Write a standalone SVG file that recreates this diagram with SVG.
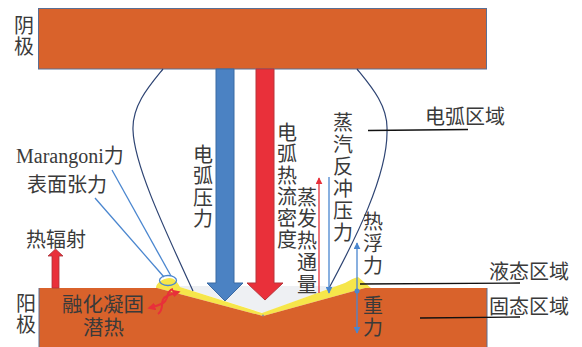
<svg xmlns="http://www.w3.org/2000/svg" width="582" height="347" viewBox="0 0 582 347">
  <style>
    .cjk { font-family: "Noto Sans CJK SC", "Noto Sans", sans-serif; font-size: 20px; fill: #3a3a3a; }
    .tight { font-family: "Liberation Sans", "Noto Sans CJK SC", sans-serif; font-size: 20.5px; fill: #3a3a3a; }
    .col { font-family: "Noto Sans CJK SC", "Noto Sans", sans-serif; font-size: 20px; fill: #3a3a3a; writing-mode: vertical-rl; letter-spacing: 1.5px; }
    .ser { font-family: "Liberation Serif", "Noto Sans CJK SC", serif; font-size: 20px; fill: #3a3a3a; }
    .arc { fill: none; stroke: #2e4473; stroke-width: 1.2; }
    .lead { fill: none; stroke: #111; stroke-width: 1.3; }
    .blue { fill: none; stroke: #4a86cf; stroke-width: 1.3; }
    .red { fill: none; stroke: #e8303a; stroke-width: 1.3; }
    .squig { fill: none; stroke: #e8303a; stroke-width: 2; }
  </style>
  <defs>
    <marker id="hb" viewBox="0 0 10 10" refX="9" refY="5" markerWidth="7" markerHeight="7" markerUnits="userSpaceOnUse" orient="auto-start-reverse">
      <path d="M0,0 L10,5 L0,10 Z" fill="#4a86cf"/>
    </marker>
    <marker id="hr" viewBox="0 0 10 10" refX="9" refY="5" markerWidth="7" markerHeight="7" markerUnits="userSpaceOnUse" orient="auto-start-reverse">
      <path d="M0,0 L10,5 L0,10 Z" fill="#e8303a"/>
    </marker>
    <marker id="hs" viewBox="0 0 10 10" refX="8" refY="5" markerWidth="8" markerHeight="8" markerUnits="userSpaceOnUse" orient="auto">
      <path d="M0,0 L10,5 L0,10 Z" fill="#e8303a"/>
    </marker>
  </defs>

  <rect width="582" height="347" fill="#ffffff"/>

  <!-- cathode block -->
  <g id="cathode">
    <rect x="38.5" y="8.5" width="448" height="60.5" fill="#d9622b" stroke="#5b6f93" stroke-width="1"/>
    <text class="col" x="24" y="15">阴极</text>
  </g>

  <!-- anode with weld pool -->
  <g id="anode">
    <!-- crater surface -->
    <path d="M176,286 L350,286 L345,283 L263,313 L180,287 Z" fill="#eef0f3"/>
    <!-- liquid layer -->
    <path d="M156,288 C156,283 162,279 169,278 C175,278 178,283 180,287 L262,313 L345,283 C350,280 354,278 358,277 C362,280 366,284 371,288 L365,288 L263,316 L157,288 Z" fill="#f6e64a"/>
    <!-- solid body -->
    <path d="M39,288 L157,288 L263,316 L365,288 L487,288 L487,347 L39,347 Z" fill="#d9622b"/>
    <circle cx="263" cy="315.5" r="1" fill="#8a8f99"/>
    <line x1="39" y1="288" x2="39" y2="347" stroke="#5b6f93" stroke-width="1"/>
    <line x1="487" y1="288" x2="487" y2="347" stroke="#5b6f93" stroke-width="1"/>
    <text class="col" x="26" y="293">阳极</text>
  </g>

  <!-- arc column outline -->
  <g id="arc-region">
    <path class="arc" d="M163,69 C150,85 132,105 133,130 C134,165 165,230 193,291"/>
    <path class="arc" d="M357,69 C370,85 388,105 387,130 C388,175 355,240 328,290"/>
  </g>

  <g id="connectors">
    <!-- arc pressure -->
    <path d="M216,69 L234,69 L234,283 L243,283 L225,301 L207,283 L216,283 Z" fill="#4b82c3" stroke="#3a6aa3" stroke-width="1"/>
    <!-- arc heat flux -->
    <path d="M256,69 L274,69 L274,283 L283,283 L265,300 L247,283 L256,283 Z" fill="#e9303a" stroke="#b8343a" stroke-width="1"/>
    <!-- thermal radiation -->
    <path d="M52,288 L52,256 L48,256 L55.5,249 L63,256 L59,256 L59,288 Z" fill="#e9303a" stroke="#a8343a" stroke-width="0.8"/>
    <!-- evaporation heat flux -->
    <line class="red" x1="319" y1="293" x2="319" y2="178" marker-end="url(#hr)"/>
    <!-- vapour recoil pressure -->
    <line class="blue" x1="329" y1="177" x2="329" y2="293" marker-end="url(#hb)"/>
    <!-- buoyancy / gravity -->
    <line class="blue" x1="357" y1="243" x2="357" y2="333" marker-start="url(#hb)" marker-end="url(#hb)"/>
    <circle cx="357" cy="291" r="2.5" fill="#4a86cf"/>
    <!-- surface forces -->
    <line class="blue" x1="112" y1="170" x2="171" y2="276"/>
    <line class="blue" x1="95" y1="198" x2="164" y2="277"/>
    <ellipse cx="168" cy="280.5" rx="8.5" ry="5" fill="none" stroke="#4a86cf" stroke-width="1.3"/>
    <!-- latent heat -->
    <path class="squig" d="M158,314 C166,308 158,300 167,296 C171,294 175,293 179,292" marker-end="url(#hs)"/>
    <path class="squig" d="M173,289 C164,292 171,300 161,304 C157,306 153,307 149,308" marker-end="url(#hs)"/>
    <!-- region leaders -->
    <line class="lead" x1="368" y1="130.5" x2="468" y2="129.5"/>
    <line class="lead" x1="360" y1="284" x2="520" y2="283"/>
    <line class="lead" x1="420" y1="318" x2="520" y2="317"/>
  </g>

  <g id="labels">
    <text class="cjk" x="425" y="124">电弧区域</text>
    <text class="cjk" x="489" y="279">液态区域</text>
    <text class="cjk" x="489" y="314">固态区域</text>
    <text class="cjk" x="26" y="247">热辐射</text>
    <text class="ser" x="16" y="163">Marangoni力</text>
    <text class="cjk" x="27" y="192">表面张力</text>
    <text class="tight" x="62" y="312">融化凝固</text>
    <text class="tight" x="83" y="335">潜热</text>

    <text class="col" x="203" y="144">电弧压力</text>
    <text class="col" x="287" y="122">电弧热流密度</text>
    <text class="col" x="307" y="187" style="letter-spacing:1.8px">蒸发热通量</text>
    <text class="col" x="343" y="112" style="letter-spacing:2px">蒸汽反冲压力</text>
    <text class="col" x="373" y="211" style="letter-spacing:2px">热浮力</text>
    <text class="col" x="373" y="295" style="letter-spacing:2px">重力</text>
  </g>
</svg>
